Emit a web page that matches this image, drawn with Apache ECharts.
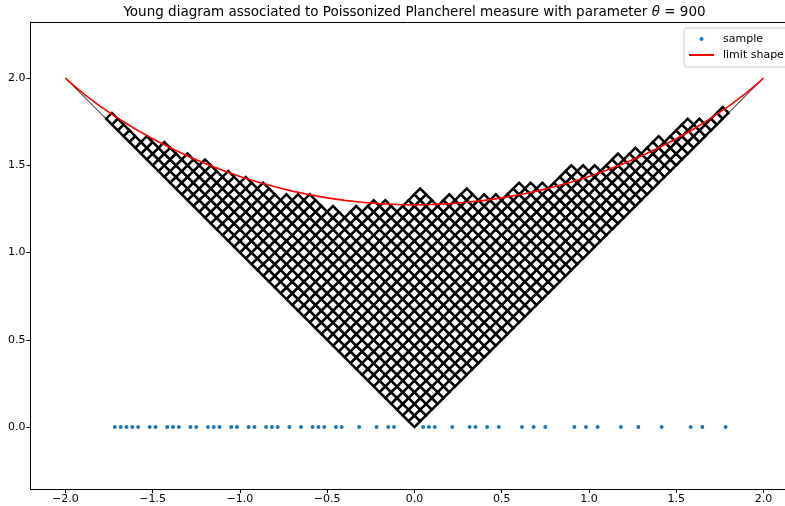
<!DOCTYPE html>
<html><head><meta charset="utf-8">
<script src="https://cdn.jsdelivr.net/npm/echarts@6/dist/echarts.min.js"></script>
<style>html,body{margin:0;padding:0;background:#fff}#c{width:785px;height:506px}</style>
</head><body><div id="c"></div>
<script>
// ---- data ----
const theta = 900;
// row lengths of the sampled Young diagram (French rows, longest first)
const rowLengths = [54,51,50,46,43,41,38,37,36,32,31,30,27,26,25,25,23,21,21,21,17,17,16,14,12,12,11,11,11,10,9,8,8,8,7,7,6,6,5,5,5,4,4,3,3,3,2,2,1,1,1,1,1];
// sample points (x positions on the line y = 0)
const samplePoints = [-1.7167,-1.6833,-1.65,-1.6167,-1.5833,-1.5167,-1.4833,-1.4167,-1.3833,-1.35,
  -1.2833,-1.25,-1.1833,-1.15,-1.1167,-1.05,-1.0167,-0.95,-0.9167,-0.85,-0.8167,-0.7833,-0.7167,-0.65,
  -0.5833,-0.55,-0.5167,-0.45,-0.4167,-0.3167,-0.2167,-0.15,-0.1167,0.05,0.0833,0.1167,0.2167,0.3167,
  0.35,0.4167,0.4833,0.6167,0.6833,0.75,0.9167,0.9833,1.05,1.1833,1.2833,1.4167,1.5833,1.65,1.7833];
// limit shape curve
const limitX = [-2,-1.98,-1.95,-1.9,-1.85,-1.8,-1.7,-1.6,-1.5,-1.4,-1.3,-1.2,-1.1,-1,-0.9,-0.8,-0.7,-0.6,-0.5,-0.4,-0.3,-0.2,-0.1,
  0,0.1,0.2,0.3,0.4,0.5,0.6,0.7,0.8,0.9,1,1.1,1.2,1.3,1.4,1.5,1.6,1.7,1.8,1.85,1.9,1.95,1.98,2];
const limitY = [2,1.981,1.955,1.913,1.875,1.838,1.770,1.708,1.652,1.600,1.553,1.510,1.471,1.436,1.404,1.377,1.352,1.331,1.313,1.299,1.288,1.280,1.275,
  1.273,1.275,1.280,1.288,1.299,1.313,1.331,1.352,1.377,1.404,1.436,1.471,1.510,1.553,1.600,1.652,1.708,1.770,1.838,1.875,1.913,1.955,1.981,2];
// boundary |x|
const edgeX = [-2, 0, 2];
const edgeY = [2, 0, 2];
const xTicks = [-2,-1.5,-1,-0.5,0,0.5,1,1.5,2];
const yTicks = [0,0.5,1,1.5,2];

// ---- build ----
const S = Math.sqrt(theta);
const cells = [];
rowLengths.forEach((len, r) => { for (let c = 1; c <= len; c++) cells.push([r + 1, c]); });

const fmt = v => (v < 0 ? '\u2212' : '') + Math.abs(v).toFixed(1);
const FONT = 'DejaVu Sans';
const chart = echarts.init(document.getElementById('c'), null, {renderer: 'canvas'});
chart.setOption({
  animation: false,
  backgroundColor: '#fff',
  title: {
    text: 'Young diagram associated to Poissonized Plancherel measure with parameter {it|θ} = 900',
    left: 414.5, top: 5, textAlign: 'center', padding: 0,
    textStyle: {fontFamily: FONT, fontSize: 13.5, fontWeight: 'normal', color: '#000',
      rich: {it: {fontFamily: FONT, fontSize: 13.5, fontStyle: 'italic', color: '#000'}}}
  },
  legend: {
    orient: 'vertical', left: 684, top: 28, itemWidth: 25, itemHeight: 5, itemGap: 4,
    padding: [5, 12, 6, 4], backgroundColor: 'rgba(255,255,255,0.8)', borderColor: '#ccc',
    borderWidth: 1, borderRadius: 3,
    textStyle: {fontFamily: FONT, fontSize: 11, color: '#000', padding: [0, 0, 0, 4], lineHeight: 12},
    data: [{name: 'sample', lineStyle: {opacity: 0}}, {name: 'limit shape', itemStyle: {opacity: 0}}]
  },
  grid: {left: 30.5, right: 0, top: 22, bottom: 17, show: false},
  xAxis: [{
    type: 'value', min: -2.2, max: 2.1238,
    axisLine: {show: true, onZero: false, lineStyle: {color: '#000', width: 1}},
    axisTick: {show: true, length: 4, customValues: xTicks, lineStyle: {color: '#000'}},
    axisLabel: {customValues: xTicks, formatter: fmt, fontFamily: FONT, fontSize: 11, color: '#000', margin: 5},
    splitLine: {show: false}
  }, {
    type: 'value', min: -2.2, max: 2.1238, position: 'top',
    axisLine: {show: true, onZero: false, lineStyle: {color: '#000', width: 1}},
    axisTick: {show: false}, axisLabel: {show: false}, splitLine: {show: false}
  }],
  yAxis: {
    type: 'value', min: -0.355, max: 2.321,
    axisLine: {show: true, onZero: false, lineStyle: {color: '#000', width: 1}},
    axisTick: {show: true, length: 4, customValues: yTicks, lineStyle: {color: '#000'}},
    axisLabel: {customValues: yTicks, formatter: fmt, fontFamily: FONT, fontSize: 11, color: '#000', margin: 5},
    splitLine: {show: false}
  },
  series: [
    {
      name: 'edge', type: 'line', z: 1, symbol: 'none', silent: true,
      data: edgeX.map((x, k) => [x, edgeY[k]]),
      lineStyle: {color: '#000', width: 1}
    },
    {
      name: 'diagram', type: 'custom', z: 2, silent: true,
      dimensions: ['row', 'col'],
      encode: {x: 'col', y: 'row'},
      data: cells,
      renderItem: (params, api) => {
        const i = api.value(0), j = api.value(1);
        const pts = [[j - i, j + i - 2], [j - i + 1, j + i - 1], [j - i, j + i], [j - i - 1, j + i - 1]]
          .map(p => api.coord([p[0] / S, p[1] / S]));
        return {type: 'polygon', shape: {points: pts}, style: {fill: '#fff', stroke: '#000', lineWidth: 2.5}};
      }
    },
    {
      name: 'sample', type: 'line', z: 3, silent: true,
      data: samplePoints.map(x => [x, 0]),
      symbol: 'circle', symbolSize: 4, showSymbol: true,
      itemStyle: {color: '#1f77b4'},
      lineStyle: {width: 0, opacity: 0}
    },
    {
      name: 'limit shape', type: 'line', z: 4, symbol: 'none', silent: true,
      data: limitX.map((x, k) => [x, limitY[k]]),
      itemStyle: {color: '#ff0000'},
      lineStyle: {color: '#ff0000', width: 1.6}
    }
  ]
});
</script>
</body></html>
